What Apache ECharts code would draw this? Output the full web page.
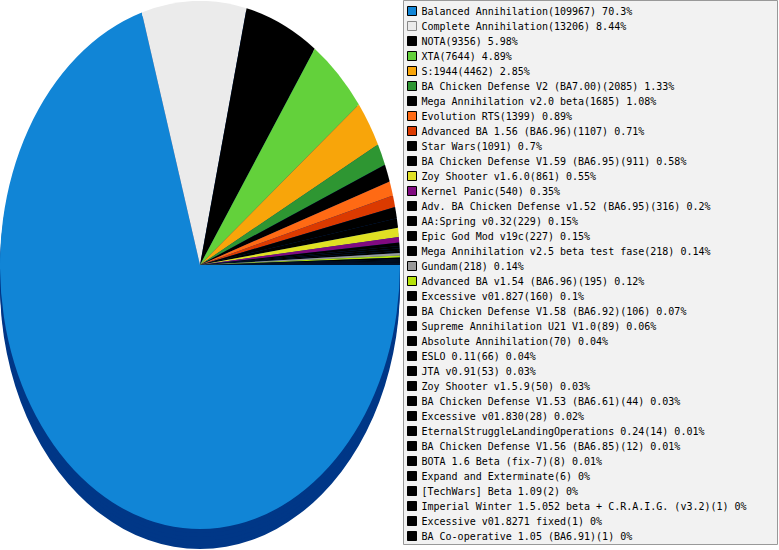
<!DOCTYPE html>
<html>
<head>
<meta charset="utf-8">
<script src="https://cdn.jsdelivr.net/npm/echarts@6/dist/echarts.min.js"></script>
<style>
html,body{margin:0;padding:0;background:#fff;overflow:hidden;}
#pie{position:absolute;left:0;top:1px;width:400px;height:420px;transform:scaleY(1.32);transform-origin:0 0;}
#leg{position:absolute;left:0;top:0;width:779px;height:550px;}
</style>
</head>
<body>
<div id="pie"></div>
<div id="leg"></div>
<script>
var names = [
  'Balanced Annihilation','Complete Annihilation','NOTA','XTA','S:1944',
  'BA Chicken Defense V2 (BA7.00)','Mega Annihilation v2.0 beta','Evolution RTS',
  'Advanced BA 1.56 (BA6.96)','Star Wars','BA Chicken Defense V1.59 (BA6.95)',
  'Zoy Shooter v1.6.0','Kernel Panic','Adv. BA Chicken Defense v1.52 (BA6.95)',
  'AA:Spring v0.32','Epic God Mod v19c','Mega Annihilation v2.5 beta test fase',
  'Gundam','Advanced BA v1.54 (BA6.96)','Excessive v01.827',
  'BA Chicken Defense V1.58 (BA6.92)','Supreme Annihilation U21 V1.0',
  'Absolute Annihilation','ESLO 0.11','JTA v0.91','Zoy Shooter v1.5.9',
  'BA Chicken Defense V1.53 (BA6.61)','Excessive v01.830',
  'EternalStruggleLandingOperations 0.24','BA Chicken Defense V1.56 (BA6.85)',
  'BOTA 1.6 Beta (fix-7)','Expand and Exterminate','[TechWars] Beta 1.09',
  'Imperial Winter 1.5.052 beta + C.R.A.I.G. (v3.2)','Excessive v01.8271 fixed',
  'BA Co-operative 1.05 (BA6.91)'
];
var values = [109967,13206,9356,7644,4462,2085,1685,1399,1107,1091,911,861,540,316,229,227,218,218,195,160,106,89,70,66,53,50,44,28,14,12,8,6,2,1,1,1];
var percents = ['70.3','8.44','5.98','4.89','2.85','1.33','1.08','0.89','0.71','0.7','0.58','0.55','0.35','0.2','0.15','0.15','0.14','0.14','0.12','0.1','0.07','0.06','0.04','0.04','0.03','0.03','0.03','0.02','0.01','0.01','0.01','0','0','0','0','0'];
var colors = ['#1185d6','#ebebeb','#000000','#63d13b','#f8a50a','#2e9632','#000000','#ff6a14','#db3a00','#000000','#000000','#e0e024','#800a80','#000000','#000000','#000000','#000000','#999999','#b5e10a','#000000','#000000','#000000','#000000','#000000','#000000','#000000','#000000','#000000','#000000','#000000','#000000','#000000','#000000','#000000','#000000','#000000'];
var sideColor = '#003787';

var total = values.reduce(function(a,b){return a+b;},0);
var data = names.map(function(n,i){
  return {name:n, value:values[i], itemStyle:{color:colors[i]}};
});

// Pie (scaled vertically into an ellipse via CSS)
var pie = echarts.init(document.getElementById('pie'), null, {renderer:'svg'});
var series = [];
var offs = [15.15, 12, 9, 6, 3];
offs.forEach(function(o){
  series.push({
    type:'pie', silent:true, animation:false, z:1,
    center:[200, 200+o], radius:200, startAngle:0, clockwise:true,
    label:{show:false}, labelLine:{show:false},
    itemStyle:{color:sideColor, borderWidth:0},
    data:[{name:'side', value:total}]
  });
});
series.push({
  type:'pie', silent:true, animation:false, z:2,
  center:[200,200], radius:200, startAngle:0, clockwise:true, minAngle:0,
  avoidLabelOverlap:false,
  label:{show:false}, labelLine:{show:false},
  itemStyle:{borderWidth:0},
  data:data
});
pie.setOption({animation:false, series:series});

// Legend
var leg = echarts.init(document.getElementById('leg'), null, {renderer:'svg'});
leg.setOption({
  animation:false,
  graphic:[{
    type:'rect', z:-10, silent:true,
    shape:{x:403.5, y:0.5, width:374, height:544},
    style:{fill:'#f2f2f2', stroke:'#999999', lineWidth:1}
  }],
  legend:{
    orient:'vertical', left:407, top:6, padding:0,
    itemWidth:9, itemHeight:9, itemGap:5, icon:'rect',
    selectedMode:false,
    itemStyle:{borderColor:'#000', borderWidth:1},
    textStyle:{fontFamily:'DejaVu Sans Mono', fontSize:10, lineHeight:10, color:'#000'},
    data:names.map(function(n,i){
      return i===1 ? {name:n, itemStyle:{borderColor:'#888', borderWidth:1}} : {name:n};
    }),
    formatter:function(name){
      var i = names.indexOf(name);
      return name + '(' + values[i] + ') ' + percents[i] + '%';
    }
  },
  series:[{
    type:'pie', silent:true, center:[-100,-100], radius:0,
    label:{show:false}, labelLine:{show:false},
    data:data
  }]
});
</script>
</body>
</html>
